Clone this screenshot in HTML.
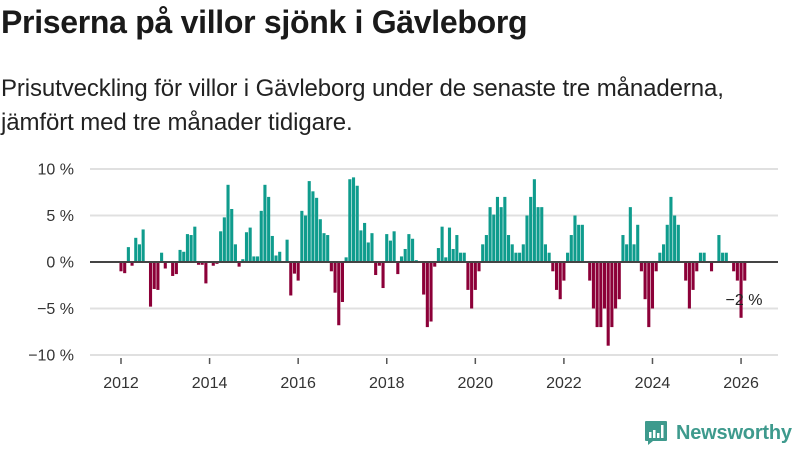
<!DOCTYPE html>
<html><head><meta charset="utf-8">
<style>
body{margin:0;background:#fff;width:800px;height:450px;overflow:hidden;font-family:"Liberation Sans",sans-serif;color:#1a1a1a}
#title{position:absolute;left:1px;top:2px;font-size:32px;line-height:40px;font-weight:bold;margin:0;letter-spacing:-0.3px}
#sub{position:absolute;left:1px;top:72px;font-size:24px;line-height:34px;margin:0;color:#222;letter-spacing:-0.1px}
svg{position:absolute;left:0;top:0}
</style></head><body>
<h1 id="title">Priserna på villor sjönk i Gävleborg</h1>
<p id="sub">Prisutveckling för villor i Gävleborg under de senaste tre månaderna,<br>jämfört med tre månader tidigare.</p>
<svg id="chart" width="800" height="450"></svg>
<script>
const startYear = 2012;
const values = [-1.0,-1.2,1.6,-0.4,2.6,1.9,3.5,0,-4.8,-2.9,-3.0,1.0,-0.7,0,-1.5,-1.3,1.3,1.1,3.0,2.9,3.8,-0.3,-0.3,-2.3,0,-0.4,-0.2,3.3,4.8,8.3,5.7,1.9,-0.5,0.3,3.2,3.7,0.6,0.6,5.5,8.3,7.0,
2.8,0.7,1.1,0,2.4,-3.6,-1.25,-2.0,5.5,5.0,8.7,7.6,6.9,4.6,3.1,2.9,-1.0,-3.3,-6.8,-4.3,0.5,8.9,9.1,8.2,3.4,4.2,2.1,3.1,-1.4,-0.4,-2.8,3.0,2.3,3.3,-1.3,0.6,1.4,3.0,2.5,0.2,0,-3.5,-7.0,-6.4,-0.5,1.5,3.8,
0.5,3.7,1.4,2.9,1.0,1.0,-3.0,-5.0,-3.0,-1.0,1.9,2.9,5.9,5.1,7.0,5.9,7.0,2.9,1.9,1.0,1.0,1.9,5.0,7.0,8.9,5.9,5.9,1.9,1.0,-1.0,-3.0,-4.0,-2.0,1.0,2.9,5.0,4.0,4.0,0,-2.0,-5.0,-7.0,-7.0,-5.0,-9.0,
-7.0,-5.0,-4.0,2.9,1.9,5.9,1.9,4.0,-1.0,-4.0,-7.0,-5.0,-1.0,1.0,1.9,4.0,7.0,5.0,4.0,0,-2.0,-5.0,-3.0,-1.0,1.0,1.0,0,-1.0,0,2.9,1.0,1.0,0,-1.0,-2.0,-6.0,-2.0];
const yTicks = [10,5,0,-5,-10];
const yTickLabels = ["10 %","5 %","0 %","−5 %","−10 %"];
const xTicks = [2012,2014,2016,2018,2020,2022,2024,2026];
const lastLabel = "−2 %";

const NS="http://www.w3.org/2000/svg";
const svg=document.getElementById('chart');
const x=t=>121+(t-2012)*44.29;
const y=v=>262-v*9.3;
function mk(tag,attrs,parent){const e=document.createElementNS(NS,tag);for(const k in attrs)e.setAttribute(k,attrs[k]);(parent||svg).appendChild(e);return e;}
yTicks.forEach((v,i)=>{
  if(v!==0){const g=mk('line',{x1:90,x2:778,y1:y(v),y2:y(v),stroke:'#e0e0e0','stroke-width':2});
  
  }
  const t=mk('text',{x:74,y:y(v)+5.5,'text-anchor':'end','font-size':16,fill:'#333','font-family':'Liberation Sans, sans-serif'});
  t.textContent=yTickLabels[i];
  
  
});
values.forEach((v,i)=>{
  if(v===0)return;
  const cx=x(startYear+i/12);
  const r=mk('rect',{x:cx-1.55,width:3.1,y:Math.min(y(v),y(0)),height:Math.abs(y(v)-y(0)),fill:v>0?'#0f9c8d':'#8c0038'});
  
  
});
const z=mk('line',{x1:90,x2:778,y1:y(0),y2:y(0),stroke:'#444','stroke-width':2});


xTicks.forEach(t=>{
  const tk=mk('line',{x1:x(t),x2:x(t),y1:358,y2:364,stroke:'#555','stroke-width':1.5});
  
  
  const l=mk('text',{x:x(t),y:388,'text-anchor':'middle','font-size':16,fill:'#333','font-family':'Liberation Sans, sans-serif'});
  l.textContent=t;
  
  
});
const ll=mk('text',{x:744,y:305,'text-anchor':'middle','font-size':16,fill:'#222','font-family':'Liberation Sans, sans-serif'});
ll.textContent=lastLabel;


</script>
<div style="position:absolute;left:644px;top:419px;height:28px;display:flex;align-items:center">
  <svg width="24" height="26" viewBox="0 0 24 26" style="position:static">
    <path d="M2 1h20a1 1 0 0 1 1 1v18a1 1 0 0 1-1 1H9l-5 4v-4H2a1 1 0 0 1-1-1V2a1 1 0 0 1 1-1z" fill="#3e9a8d"/>
    <rect x="5" y="12" width="2.5" height="6" fill="#fff"/><rect x="9" y="10" width="2.5" height="8" fill="#fff"/><rect x="13" y="13" width="2.5" height="5" fill="#fff"/><rect x="17" y="5" width="2.5" height="13" fill="#fff"/>
  </svg>
  <span style="margin-left:8px;font-size:20px;font-weight:bold;color:#3e9a8d;letter-spacing:-0.2px">Newsworthy</span>
</div>
</body></html>
